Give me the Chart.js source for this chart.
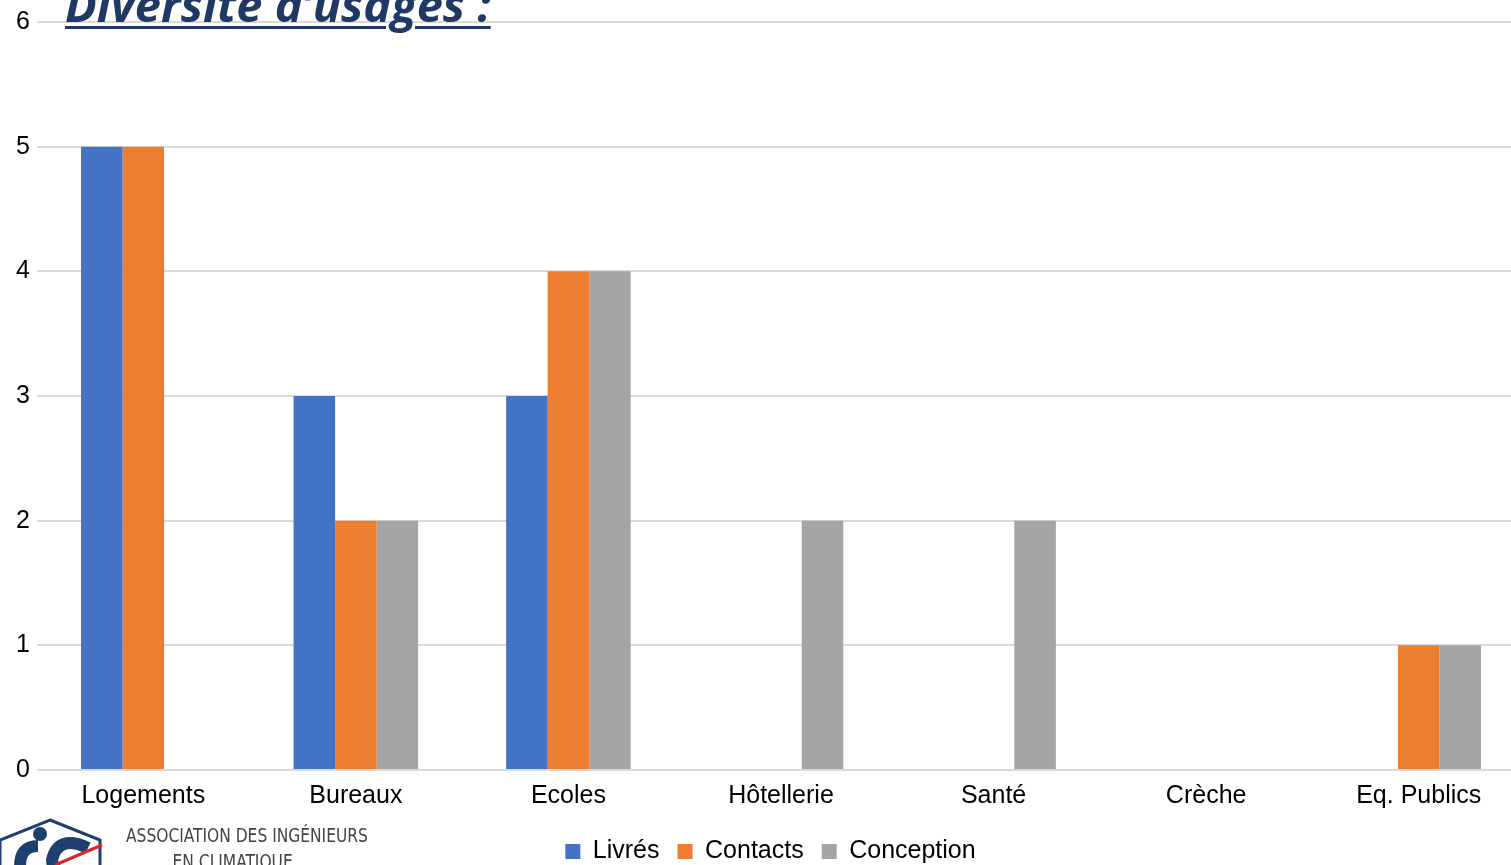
<!DOCTYPE html>
<html>
<head>
<meta charset="utf-8">
<script src="https://cdn.jsdelivr.net/npm/chart.js@4/dist/chart.umd.min.js"></script>
<style>
  html, body { margin: 0; padding: 0; background: #fff; overflow: hidden; }
  #wrap { position: relative; width: 1525px; height: 874px; }
  #title {
    position: absolute; left: 65px; top: -19px;
    font-family: "Open Sans", sans-serif; font-weight: 700; font-style: italic;
    font-size: 47px; line-height: 47px; color: #1F3864;
    text-decoration: underline; text-decoration-thickness: 3px; text-underline-offset: 4px;
    white-space: nowrap;
  }
  #logoText {
    position: absolute; left: 126px; top: 822px; width: 248px; text-align: center;
    font-family: "DejaVu Sans Condensed", "DejaVu Sans", sans-serif; color: #444;
    font-size: 20px; line-height: 26px; white-space: nowrap;
    transform: scaleX(0.86); transform-origin: left top;
  }
  #logo { position: absolute; left: 0; top: 818px; }
</style>
</head>
<body>
<div id="wrap">
  <canvas id="myChart" width="1525" height="874"></canvas>
  <div id="title">Diversité d’usages :</div>
  <svg id="logo" width="110" height="50">
    <polygon points="50,2 100,22 100,70 50,90 0,70 0,22" fill="#fff" stroke="#1F3F6E" stroke-width="3"/>
    <path d="M20,48 q0,-20 18,-20" stroke="#1F3F6E" stroke-width="12" fill="none"/>
    <circle cx="40" cy="16" r="7" fill="#1F3F6E"/>
    <path d="M88,30 q-30,-14 -36,12 q0,14 22,12" stroke="#1F3F6E" stroke-width="12" fill="none"/>
    <line x1="55" y1="47" x2="102" y2="27" stroke="#d9262c" stroke-width="3"/>
  </svg>
  <div id="logoText">ASSOCIATION DES INGÉNIEURS<br>EN CLIMATIQUE</div>
</div>
<script>
'use strict';

// data
let categories = ['Logements', 'Bureaux', 'Ecoles', 'Hôtellerie', 'Santé', 'Crèche', 'Eq. Publics'];
let livres = [5, 3, 3, 0, 0, 0, 0];
let contacts = [5, 2, 4, 0, 0, 0, 1];
let conception = [0, 2, 4, 2, 2, 0, 1];
let yTicks = [0, 1, 2, 3, 4, 5, 6];

let axisFont = { family: 'Liberation Sans, Arial', size: 25 };

// nudge the legend a little to the right, like the original
let legendShift = {
    id: 'legendShift',
    afterLayout: function (chart) {
        chart.legend.left += 8;
        chart.legend.right += 8;
    }
};

let chartObject = {
    type: 'bar',
    data: {
        labels: categories,
        datasets: [{
            label: 'Livrés',
            data: livres,
            backgroundColor: '#4472C4'
        },
        {
            label: 'Contacts',
            data: contacts,
            backgroundColor: '#ED7D31'
        },
        {
            label: 'Conception',
            data: conception,
            backgroundColor: '#A5A5A5'
        }]
    },
    options: {
        responsive: false,
        animation: false,
        layout: { padding: { top: 22, right: 0, bottom: 0, left: 0 } },
        datasets: { bar: { categoryPercentage: 0.586, barPercentage: 1 } },
        plugins: {
            tooltip: { enabled: false },
            legend: {
                position: 'bottom',
                labels: {
                    boxWidth: 15, boxHeight: 15, padding: 18,
                    color: '#000',
                    font: axisFont
                }
            }
        },
        scales: {
            x: {
                grid: { display: false },
                border: { display: false },
                ticks: { color: '#000', padding: 3, maxRotation: 0, font: axisFont },
                afterFit: function (scale) { scale.height = 51; }
            },
            y: {
                min: 0, max: 6,
                afterBuildTicks: function (scale) {
                    scale.ticks = yTicks.map(function (v) { return { value: v }; });
                },
                grid: { color: '#D9D9D9', lineWidth: 2, drawTicks: false },
                border: { display: false },
                ticks: { color: '#000', padding: 7, font: axisFont },
                afterFit: function (scale) { scale.width = 37; }
            }
        }
    },
    plugins: [legendShift]
};

let ctx = document.getElementById('myChart').getContext('2d');
let myChart = new Chart(ctx, chartObject);
</script>
</body>
</html>
